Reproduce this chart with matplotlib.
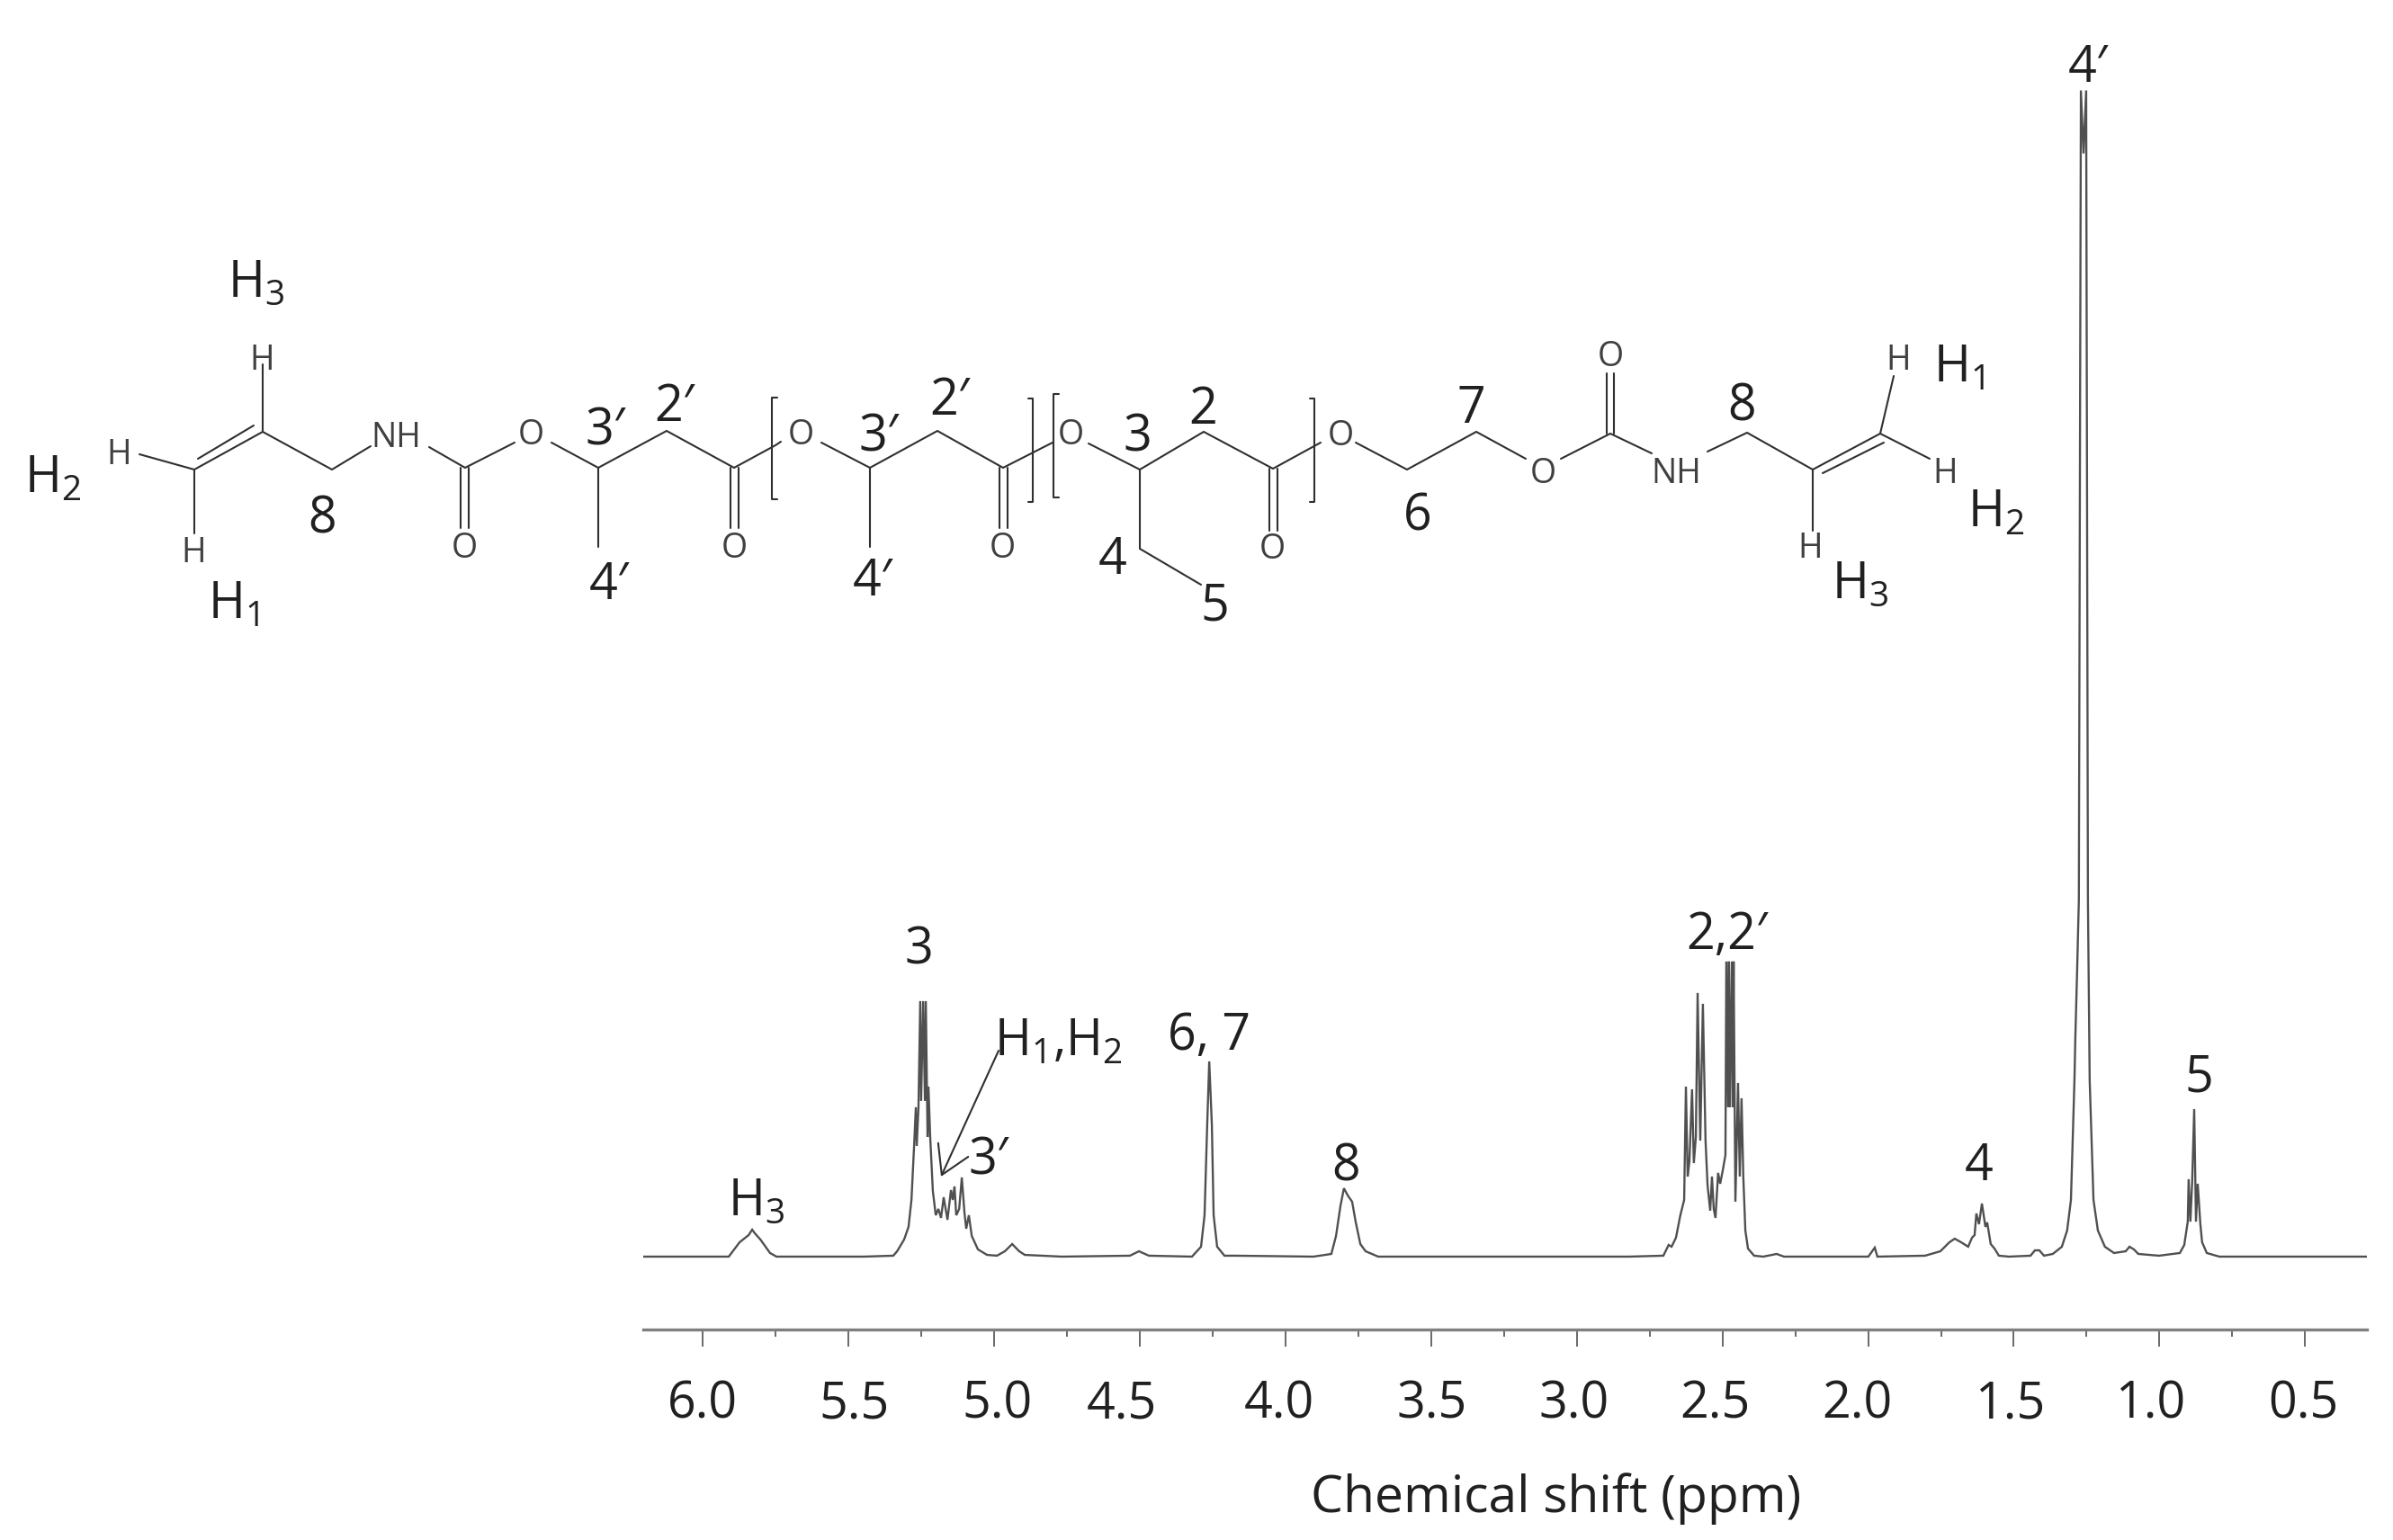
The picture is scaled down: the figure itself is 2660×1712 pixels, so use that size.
import matplotlib
matplotlib.use('Agg')
import matplotlib.pyplot as plt
from matplotlib.transforms import ScaledTranslation
import numpy as np

plt.rcParams['font.family'] = ['Open Sans', 'DejaVu Sans']
plt.rcParams['mathtext.default'] = 'regular'

# spectrum (ppm before referencing, % of the tallest peak)
shift_ppm = [
    6.206, 5.914, 5.877, 5.846, 5.834, 5.825, 5.806, 5.773, 5.751, 5.453,
    # 3 and 3'
    5.352, 5.339, 5.315, 5.300, 5.290, 5.281, 5.275, 5.272, 5.266, 5.260, 5.257, 5.250,
    5.244, 5.241, 5.235, 5.232, 5.226, 5.217, 5.207, 5.198, 5.189, 5.180, 5.167, 5.155,
    5.149, 5.143, 5.137, 5.127, 5.118, 5.109, 5.103, 5.094, 5.084, 5.063, 5.032, 4.998,
    4.971, 4.946, 4.922, 4.903, 4.777, 4.544, 4.513, 4.479, 4.332,
    # 6, 7
    4.301, 4.289, 4.280, 4.273, 4.264, 4.258, 4.246, 4.221, 4.184, 3.917,
    # 8
    3.856, 3.840, 3.825, 3.813, 3.800, 3.785, 3.773, 3.757, 3.739, 3.696, 2.839,
    # 2, 2'
    2.722, 2.704, 2.694, 2.679, 2.664, 2.651, 2.645, 2.639, 2.633, 2.624, 2.618, 2.611,
    2.605, 2.596, 2.587, 2.578, 2.571, 2.562, 2.556, 2.550, 2.544, 2.535, 2.528, 2.519,
    2.510, 2.507, 2.501, 2.498, 2.495, 2.488, 2.485, 2.482, 2.476, 2.467, 2.461, 2.455,
    2.449, 2.442, 2.433, 2.412, 2.381, 2.335, 2.310, 2.022, 2.000, 1.991,
    # 4
    1.828, 1.776, 1.745, 1.727, 1.705, 1.681, 1.668, 1.659, 1.653, 1.644, 1.634, 1.622,
    1.616, 1.604, 1.591, 1.576, 1.542, 1.468, 1.453, 1.438, 1.422,
    # 4'
    1.392, 1.361, 1.343, 1.330, 1.324, 1.318, 1.315, 1.309, 1.303, 1.296, 1.287, 1.278,
    1.272, 1.266, 1.253, 1.238, 1.214, 1.183, 1.143, 1.130, 1.115, 1.100, 1.029,
    # 5
    0.958, 0.943, 0.931, 0.928, 0.922, 0.916, 0.909, 0.903, 0.897, 0.888, 0.882, 0.866,
    0.823, 0.289]
intensity = [
    0, 0, 1.23, 1.85, 2.31, 2.0, 1.47, 0.31, 0, 0,
    0.08, 0.46, 1.47, 2.55, 4.86, 9.49, 12.81, 9.49, 12.81, 21.91, 13.35, 21.91,
    13.35, 21.91, 10.26, 14.58, 10.26, 5.63, 3.55, 4.09, 3.32, 5.09, 3.16, 5.71,
    4.86, 6.02, 3.55, 4.09, 6.79, 3.78, 2.39, 3.55, 1.77, 0.62, 0.15, 0.08,
    0.46, 1.08, 0.46, 0.15, 0, 0.08, 0.46, 0.08, 0,
    0.85, 3.55, 11.27, 16.74, 11.27, 3.55, 0.85, 0.08, 0.08, 0,
    0.23, 1.77, 4.32, 5.86, 5.25, 4.71, 3.0, 1.08, 0.46, 0, 0,
    0.08, 1.0, 0.85, 1.62, 3.55, 4.86, 14.58, 6.87, 8.18, 14.35, 8.02, 10.26,
    22.61, 9.95, 21.68, 9.95, 6.1, 3.94, 6.87, 4.09, 3.32, 7.18, 6.25, 7.41,
    8.72, 25.31, 12.81, 25.31, 12.81, 25.31, 12.81, 25.31, 4.71, 14.89, 6.87, 13.58,
    6.87, 2.24, 0.69, 0.08, 0, 0.23, 0, 0, 0.77, 0,
    0.08, 0.46, 1.23, 1.54, 1.23, 0.85, 1.62, 1.85, 3.7, 2.78, 4.55, 2.55,
    2.93, 1.08, 0.69, 0.08, 0, 0.08, 0.54, 0.54, 0.08,
    0.23, 0.85, 2.24, 4.86, 9.95, 15.12, 18.75, 24.4, 30.56, 100, 94.6, 100,
    30.56, 15.12, 4.86, 2.24, 0.85, 0.31, 0.46, 0.85, 0.62, 0.23, 0.08,
    0.31, 1.0, 3.0, 6.64, 3.0, 6.4, 12.65, 3.0, 6.25, 2.78, 1.23, 0.31,
    0, 0]

major_ticks = [6.0, 5.5, 5.0, 4.5, 4.0, 3.5, 3.0, 2.5, 2.0, 1.5, 1.0, 0.5]
minor_ticks = [5.75, 5.25, 4.75, 4.25, 3.75, 3.25, 2.75, 2.25, 1.75, 1.25, 0.75]
# the tick labels were placed by hand in the original, px off their ticks
tick_label_dx = [0, 7, 4, -20, -7, 1, -3, -8, -12, -4, -10, -2]

# peak labels and molecule labels (text, x px, y px)
peak_labels = [
    ("4′", 2321, 71), ("3", 1021, 1052), ("H$_1$,H$_2$", 1176, 1153), ("3′", 1099, 1286),
    ("6, 7", 1344, 1148), ("8", 1496, 1293), ("H$_3$", 841, 1332), ("2,2′", 1920, 1035),
    ("4", 2200, 1293), ("5", 2444, 1194)]
mol_labels = [
    ("H$_3$", 285, 310), ("H$_2$", 59, 528), ("H$_1$", 260, 667), ("8", 358, 573),
    ("3′", 673, 475), ("2′", 750, 448), ("4′", 677, 646), ("3′", 977, 482),
    ("2′", 1055, 441), ("4′", 970, 643), ("3", 1264, 482), ("2", 1337, 451),
    ("4", 1237, 619), ("5", 1350, 670), ("6", 1576, 570), ("7", 1635, 450),
    ("8", 1936, 448), ("H$_1$", 2178, 404), ("H$_2$", 2219, 565), ("H$_3$", 2068, 646)]
atoms = [
    ("H", 291, 397), ("H", 132, 502), ("H", 215, 611), ("NH", 440, 483), ("O", 590, 480),
    ("O", 516, 606), ("O", 816, 606), ("O", 890, 480), ("O", 1114, 606), ("O", 1190, 480),
    ("O", 1414, 607), ("O", 1490, 481), ("O", 1715, 523), ("O", 1790, 393), ("NH", 1863, 523),
    ("H", 2012, 606), ("H", 2110, 397), ("H", 2162, 523)]

# skeleton of the molecule as polylines, px
bonds = [
    [(292, 405), (292, 480), (216, 522), (155, 505)],
    [(216, 522), (216, 593)],
    [(220, 510), (282, 473)],
    [(292, 480), (369, 522), (412, 496)],
    [(477, 497), (517, 520), (572, 492)],
    [(512, 520), (512, 587)], [(521, 520), (521, 587)],
    [(613, 492), (665, 520), (741, 479), (816, 520), (862, 495), (868, 491)],
    [(665, 520), (665, 608)],
    [(812, 520), (812, 587)], [(821, 520), (821, 587)],
    [(913, 492), (967, 520), (1042, 479), (1115, 520), (1170, 492)],
    [(967, 520), (967, 608)],
    [(1111, 520), (1111, 587)], [(1120, 520), (1120, 587)],
    [(1210, 493), (1267, 522), (1338, 480), (1415, 521), (1468, 492)],
    [(1267, 522), (1267, 610), (1335, 650)],
    [(1411, 521), (1411, 590)], [(1420, 521), (1420, 590)],
    [(1507, 492), (1564, 522), (1641, 480), (1696, 510)],
    [(1735, 510), (1790, 482), (1836, 504)],
    [(1786, 482), (1786, 415)], [(1794, 482), (1794, 415)],
    [(1898, 502), (1942, 481), (2015, 522), (2090, 482), (2145, 510)],
    [(2015, 522), (2015, 590)],
    [(2026, 526), (2094, 492)],
    [(2090, 482), (2105, 418)]]
brackets = [
    [(864, 442), (858, 442), (858, 555), (864, 555)],
    [(1143, 443), (1148, 443), (1148, 558), (1143, 558)],
    [(1177, 438), (1171, 438), (1171, 553), (1177, 553)],
    [(1456, 443), (1461, 443), (1461, 558), (1456, 558)]]

fig = plt.figure(figsize=(26.6, 17.12), dpi=100)

ax = fig.add_axes([715 / 2660, (1712 - 1478) / 1712, (2631 - 715) / 2660, (1478 - 50) / 1712])
# reference the readings to the printed scale
shift = 5.9969 - (6 - np.array(shift_ppm)) * 1.00494
ax.plot(shift, intensity, color='#505050', lw=1.7, solid_joinstyle='miter')
ax.set_xlim(6.204, 0.288)
ax.set_ylim(-6.25, 103.9)
ax.set_xticks(major_ticks)
ax.set_xticks(minor_ticks, minor=True)
ax.set_xticklabels(['%.1f' % t for t in major_ticks])
ax.tick_params(axis='x', which='major', length=14, width=1.1, color='#404040',
               labelsize=40, pad=26, labelcolor='#202020')
ax.tick_params(axis='x', which='minor', length=6, width=1.1, color='#404040')
for lab, dx in zip(ax.get_xticklabels(), tick_label_dx):
    lab.set_transform(lab.get_transform() + ScaledTranslation(dx / 100, 0, fig.dpi_scale_trans))
ax.set_yticks([])
for s in ['left', 'right', 'top']:
    ax.spines[s].set_visible(False)
ax.spines['bottom'].set_color('#7f7f7f')
ax.spines['bottom'].set_linewidth(2.4)
ax.patch.set_alpha(0)

# overlay in pixel coordinates for the molecule and the labels
ov = fig.add_axes([0, 0, 1, 1])
ov.set_xlim(0, 2660)
ov.set_ylim(1712, 0)
ov.axis('off')

for line in bonds + brackets:
    xy = np.array(line)
    ov.plot(xy[:, 0], xy[:, 1], color='#303030', lw=1.5, solid_capstyle='round')
for t, x, y in atoms:
    ov.text(x, y + 4, t, fontsize=27, color='#404040', ha='center', va='center')
for t, x, y in mol_labels + peak_labels:
    ov.text(x, y + 5, t, fontsize=40, color='#202020', ha='center', va='center')

ov.annotate('', xy=(1046, 1308), xytext=(1110, 1168),
            arrowprops=dict(arrowstyle='->,head_length=1.0,head_width=0.6', color='#303030',
                            lw=1.5, mutation_scale=22, shrinkA=0, shrinkB=0))
ov.text(1730, 1666, 'Chemical shift (ppm)', fontsize=41, color='#202020', ha='center', va='center')

fig.savefig('out.png', dpi=100)
